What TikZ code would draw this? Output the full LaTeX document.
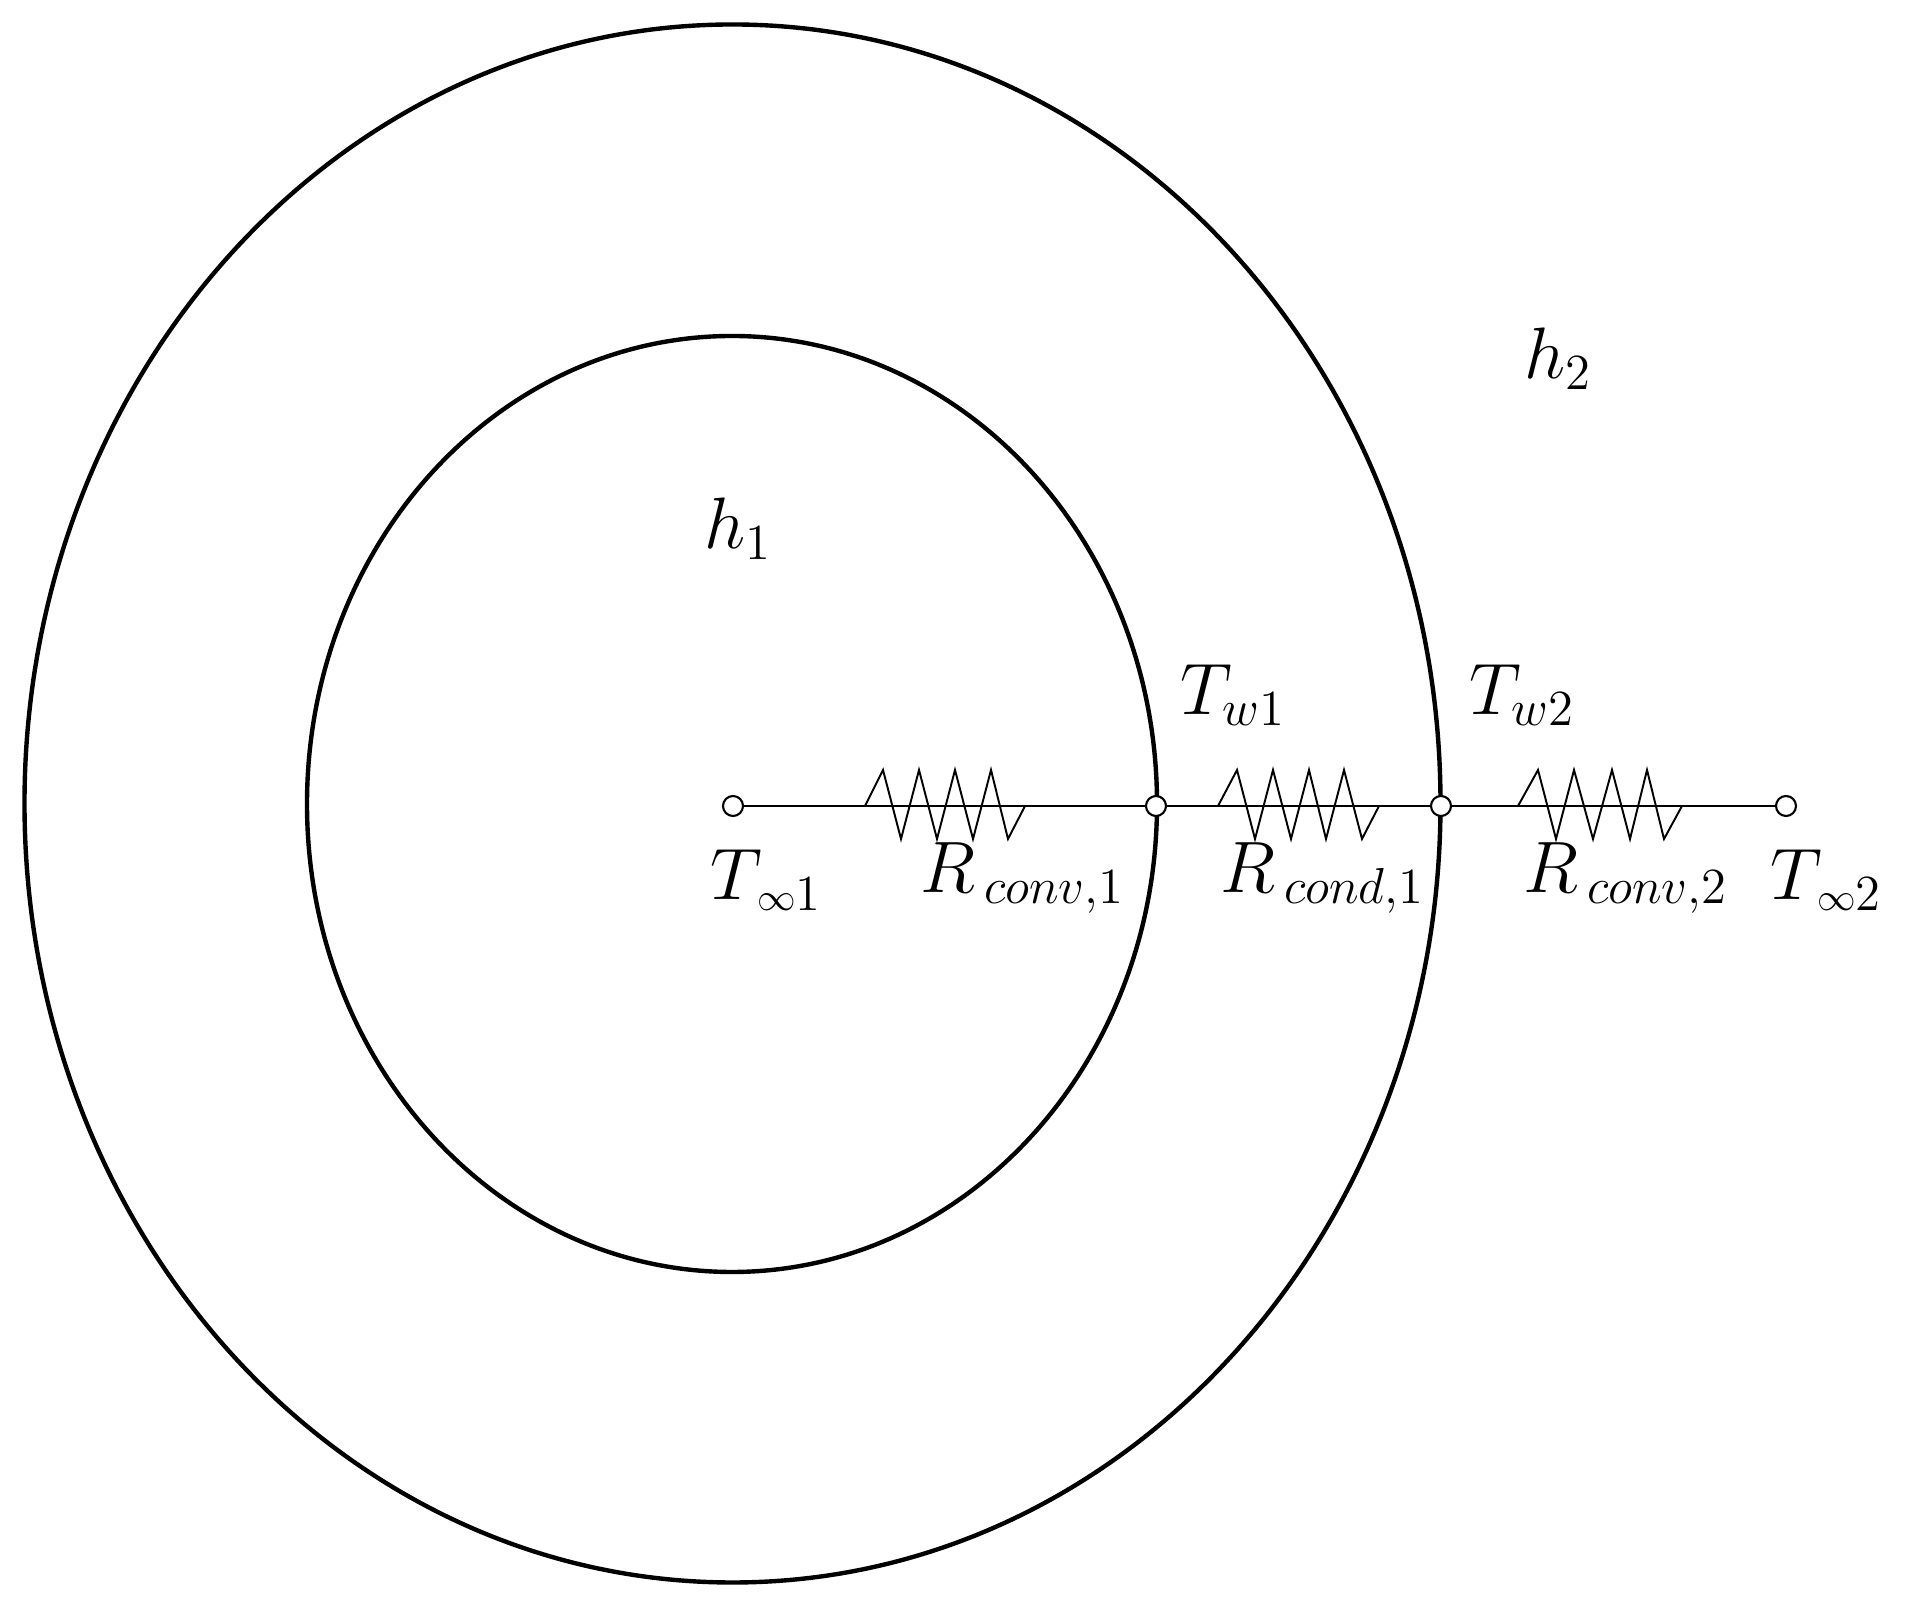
\documentclass[tikz,border=0pt]{standalone}
\DeclareMathSizes{20}{20}{15}{11}
\DeclareMathSizes{21}{21}{15.5}{11}
\tikzset{
  junction/.style={circle,draw,fill=white,inner sep=0pt,minimum size=0.2cm,line width=0.6pt},
  wall/.style={line width=1.25pt},
  wire/.style={line width=0.75pt},
  zigzag/.style={line width=0.55pt,line join=miter},
  mathlabel/.style={anchor=base west,inner sep=0pt,font=\fontsize{20}{24}\selectfont},
  resistlabel/.style={mathlabel,font=\fontsize{21}{25}\selectfont}
}
\begin{document}
\begin{tikzpicture}
      \useasboundingbox (0,0) rectangle (19.05,16.14);
      \draw[wall] (7.325,8.105) ellipse (7.08 and 7.79);
      \draw[wall] (7.32,8.10) ellipse (4.25 and 4.68);
      \begin{scope}[zigzag]
        \draw (8.65,8.08) -- (8.83,8.44) -- (9.01,7.75) -- (9.19,8.44) -- (9.37,7.75)
          -- (9.55,8.44) -- (9.73,7.75) -- (9.91,8.44) -- (10.08,7.75) -- (10.25,8.08);
        \draw (12.18,8.08) -- (12.37,8.44) -- (12.55,7.75) -- (12.73,8.44) -- (12.91,7.75)
          -- (13.09,8.44) -- (13.26,7.75) -- (13.44,8.44) -- (13.62,7.75) -- (13.79,8.08);
        \draw (15.18,8.08) -- (15.38,8.44) -- (15.56,7.75) -- (15.74,8.44) -- (15.93,7.75)
          -- (16.12,8.44) -- (16.30,7.75) -- (16.47,8.44) -- (16.64,7.75) -- (16.82,8.08);
      \end{scope}
      \path
        (7.33,8.08) coordinate (tinf1)
        (11.56,8.08) coordinate (tw1)
        (14.41,8.08) coordinate (tw2)
        (17.86,8.08) coordinate (tinf2);
      \begin{scope}[wire]
        \draw (tinf1) to (tw1);
        \draw (tw1) to (tw2);
        \draw (tw2) to (tinf2);
      \end{scope}
      \node[junction] (n1) at (tinf1) {};
      \node[junction] (n2) at (tw1) {};
      \node[junction] (n3) at (tw2) {};
      \node[junction] (n4) at (tinf2) {};
      \node[mathlabel] (h1) at (7.04,10.65) {$h_1$};
      \node[mathlabel] (h2) at (15.24,12.35) {$h_2$};
      \node[mathlabel] (lw1) at (11.80,8.99) {$T_{w1}$};
      \node[mathlabel] (lw2) at (14.69,8.99) {$T_{w2}$};
      \node[mathlabel] (linf1) at (7.10,7.14) {$T_{\mkern1.7mu{\scriptscriptstyle\infty}1}$};
      \node[mathlabel] (linf2) at (17.70,7.14) {$T_{\mkern1.7mu{\scriptscriptstyle\infty}2}$};
      \node[resistlabel] (r1) at (9.20,7.21) {$R_{\mkern3.3mu conv,1}$};
      \node[resistlabel] (r2) at (12.20,7.21) {$R_{\mkern3.3mu cond,1}$};
      \node[resistlabel] (r3) at (15.23,7.21) {$R_{\mkern3.3mu conv,2}$};
    \end{tikzpicture}
\end{document}
